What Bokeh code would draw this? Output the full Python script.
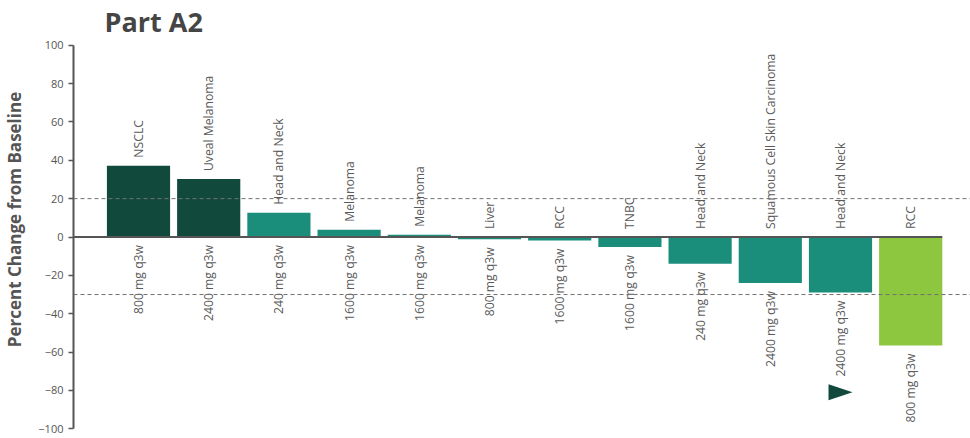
import math
from bokeh.plotting import figure
from bokeh.models import Range1d, Span, FixedTicker, ColumnDataSource, Label
from bokeh.core.properties import value
from bokeh.embed import file_html
from bokeh.resources import INLINE

# ---- data ----
title_text = "Part A2"
y_label_text = "Percent Change from Baseline"
tumor_types = ["NSCLC", "Uveal Melanoma", "Head and Neck", "Melanoma", "Melanoma",
               "Liver", "RCC", "TNBC", "Head and Neck", "Squamous Cell Skin Carcinoma",
               "Head and Neck", "RCC"]
doses = ["800 mg q3w", "2400 mg q3w", "240 mg q3w", "1600 mg q3w", "1600 mg q3w",
         "800 mg q3w", "1600 mg q3w", "1600 mg q3w", "240 mg q3w", "2400 mg q3w",
         "2400 mg q3w", "800 mg q3w"]
pct_change = [37.2, 30.2, 12.7, 3.8, 1.2, -1.2, -1.8, -5.2, -14.0, -24.0, -29.0, -56.6]
response = ["PD", "PD", "SD", "SD", "SD", "SD", "SD", "SD", "SD", "SD", "SD", "PR"]
marker_bar = [10]          # bar index carrying the arrow marker
marker_value = [-81.0]
threshold_lines = [20, -30]
y_ticks = [-100, -80, -60, -40, -20, 0, 20, 40, 60, 80, 100]

# ---- styles / layout ----
COLORS = {"PD": "#114a3d", "SD": "#1b8e7b", "PR": "#8dc63f"}
TEXT = "#5a5a5a"
AXIS = "#555555"
FONT = "Open Sans"

W, H = 970, 438
BORDER_L = 73
FRAME_W, FRAME_H = W - BORDER_L, H
TOP_PAD_PX, BOTTOM_PAD_PX = 44.7, 9.7      # blank space above/below the axis span
FIRST_BAR_PX = 65.0                        # first bar centre from the axis
BAR_STEP_PX = 70.2
BAR_W = 0.9

axis_min, axis_max = min(y_ticks), max(y_ticks)
px_per_y = (FRAME_H - TOP_PAD_PX - BOTTOM_PAD_PX) / (axis_max - axis_min)
y_start = axis_min - BOTTOM_PAD_PX / px_per_y
y_end = axis_max + TOP_PAD_PX / px_per_y
x_start = -FIRST_BAR_PX / BAR_STEP_PX
x_end = x_start + FRAME_W / BAR_STEP_PX

p = figure(width=W, height=H, output_backend="svg", toolbar_location=None,
           x_range=Range1d(x_start, x_end), y_range=Range1d(y_start, y_end),
           min_border_left=BORDER_L, min_border_top=0,
           min_border_right=0, min_border_bottom=0)
p.outline_line_color = None
p.grid.visible = False
p.xaxis.visible = False
p.background_fill_color = "white"
p.border_fill_color = "white"

yax = p.yaxis[0]
yax.ticker = FixedTicker(ticks=y_ticks)
yax.bounds = (axis_min, axis_max)
yax.axis_line_color = AXIS
yax.axis_line_width = 2
yax.major_tick_line_color = AXIS
yax.major_tick_line_width = 1.5
yax.major_tick_out = 5
yax.major_tick_in = 0
yax.minor_tick_line_color = None
yax.major_label_text_font = FONT
yax.major_label_text_font_size = "11px"
yax.major_label_text_color = "#555555"
yax.major_label_standoff = 5
yax.axis_label = y_label_text
yax.axis_label_text_font = FONT
yax.axis_label_text_font_size = "17px"
yax.axis_label_text_font_style = "bold"
yax.axis_label_text_color = "#555555"
yax.axis_label_standoff = 9

# chart title, placed inside the (full-height) frame in screen px
p.add_layout(Label(x=31, y=FRAME_H - 21, x_units="screen", y_units="screen",
                   text=title_text, text_font=FONT, text_font_size="27px",
                   text_font_style="bold", text_color="#454545",
                   text_align="left", text_baseline="alphabetic"))

n = len(pct_change)
xs = list(range(n))
src = ColumnDataSource(dict(
    x=xs, v=pct_change, color=[COLORS[r] for r in response],
    tumor=tumor_types, dose=doses,
    top_anchor=[max(v, 0) for v in pct_change],
    bot_anchor=[min(v, 0) for v in pct_change],
))

p.vbar(x="x", top="v", bottom=0, width=BAR_W, fill_color="color",
       line_color=None, source=src)

for t in threshold_lines:
    p.add_layout(Span(location=t, dimension="width", line_color="#707070",
                      line_width=1, line_dash="4 3"))

# zero line from axis to last bar edge
p.line(x=[x_start, xs[-1] + BAR_W / 2], y=[0, 0], line_color=AXIS, line_width=2)

p.text(x="x", y="top_anchor", text="tumor", source=src, angle=math.pi / 2,
       text_align="left", text_baseline="middle", y_offset=-8,
       text_font=value(FONT), text_font_size="12.2px", text_color=TEXT)
p.text(x="x", y="bot_anchor", text="dose", source=src, angle=math.pi / 2,
       text_align="right", text_baseline="middle", y_offset=8,
       text_font=value(FONT), text_font_size="12.2px", text_color=TEXT)

# right-pointing arrow marker (size in pixels converted to data units)
half_len, half_base = 12 / BAR_STEP_PX, 8 / px_per_y
tri_xs = [[mx - half_len, mx - half_len, mx + half_len] for mx in marker_bar]
tri_ys = [[my + half_base, my - half_base, my] for my in marker_value]
p.patches(xs=tri_xs, ys=tri_ys, fill_color=COLORS["PD"], line_color=None)

open("out.html", "w").write(file_html(p, INLINE))
